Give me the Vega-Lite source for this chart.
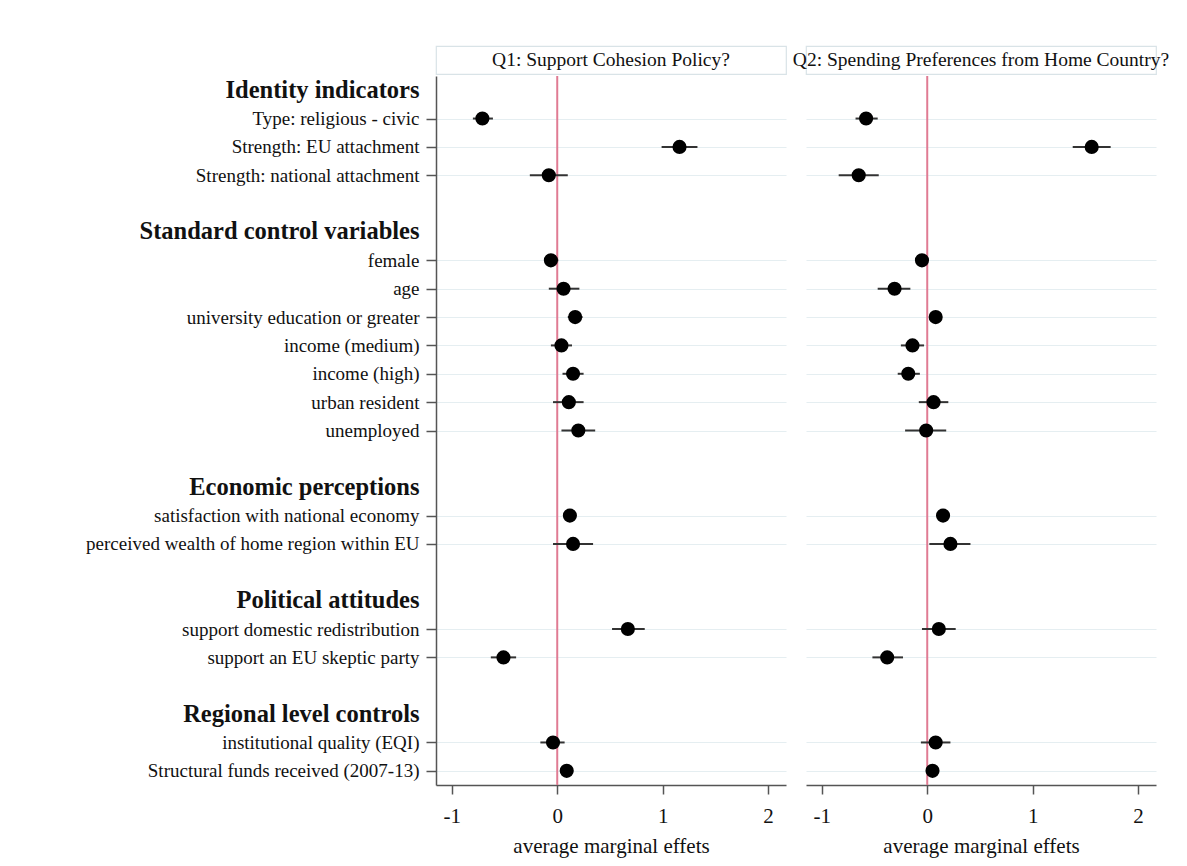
{
  "$schema": "https://vega.github.io/schema/vega-lite/v6.json",
  "padding": {"left": 85, "top": 45, "right": 5, "bottom": 5},
  "background": "white",
  "config": {"view": {"stroke": null}, "font": "Liberation Serif"},
  "datasets": {
    "coef": [
      {"panel": "Q1", "var": "Type: religious - civic", "est": -0.71, "lo": -0.80, "hi": -0.61},
      {"panel": "Q1", "var": "Strength: EU attachment", "est": 1.16, "lo": 0.99, "hi": 1.33},
      {"panel": "Q1", "var": "Strength: national attachment", "est": -0.08, "lo": -0.26, "hi": 0.10},
      {"panel": "Q1", "var": "female", "est": -0.06, "lo": -0.12, "hi": 0.01},
      {"panel": "Q1", "var": "age", "est": 0.06, "lo": -0.08, "hi": 0.21},
      {"panel": "Q1", "var": "university education or greater", "est": 0.17, "lo": 0.10, "hi": 0.24},
      {"panel": "Q1", "var": "income (medium)", "est": 0.04, "lo": -0.06, "hi": 0.14},
      {"panel": "Q1", "var": "income (high)", "est": 0.15, "lo": 0.05, "hi": 0.25},
      {"panel": "Q1", "var": "urban resident", "est": 0.11, "lo": -0.04, "hi": 0.25},
      {"panel": "Q1", "var": "unemployed", "est": 0.20, "lo": 0.04, "hi": 0.36},
      {"panel": "Q1", "var": "satisfaction with national economy", "est": 0.12, "lo": 0.06, "hi": 0.18},
      {"panel": "Q1", "var": "perceived wealth of home region within EU", "est": 0.15, "lo": -0.04, "hi": 0.34},
      {"panel": "Q1", "var": "support domestic redistribution", "est": 0.67, "lo": 0.52, "hi": 0.83},
      {"panel": "Q1", "var": "support an EU skeptic party", "est": -0.51, "lo": -0.63, "hi": -0.39},
      {"panel": "Q1", "var": "institutional quality (EQI)", "est": -0.04, "lo": -0.16, "hi": 0.07},
      {"panel": "Q1", "var": "Structural funds received (2007-13)", "est": 0.09, "lo": 0.03, "hi": 0.15},
      {"panel": "Q2", "var": "Type: religious - civic", "est": -0.58, "lo": -0.68, "hi": -0.47},
      {"panel": "Q2", "var": "Strength: EU attachment", "est": 1.56, "lo": 1.38, "hi": 1.74},
      {"panel": "Q2", "var": "Strength: national attachment", "est": -0.65, "lo": -0.84, "hi": -0.46},
      {"panel": "Q2", "var": "female", "est": -0.05, "lo": -0.11, "hi": 0.01},
      {"panel": "Q2", "var": "age", "est": -0.31, "lo": -0.47, "hi": -0.16},
      {"panel": "Q2", "var": "university education or greater", "est": 0.08, "lo": 0.03, "hi": 0.14},
      {"panel": "Q2", "var": "income (medium)", "est": -0.14, "lo": -0.25, "hi": -0.03},
      {"panel": "Q2", "var": "income (high)", "est": -0.18, "lo": -0.28, "hi": -0.07},
      {"panel": "Q2", "var": "urban resident", "est": 0.06, "lo": -0.08, "hi": 0.20},
      {"panel": "Q2", "var": "unemployed", "est": -0.01, "lo": -0.21, "hi": 0.18},
      {"panel": "Q2", "var": "satisfaction with national economy", "est": 0.15, "lo": 0.09, "hi": 0.20},
      {"panel": "Q2", "var": "perceived wealth of home region within EU", "est": 0.22, "lo": 0.02, "hi": 0.41},
      {"panel": "Q2", "var": "support domestic redistribution", "est": 0.11, "lo": -0.05, "hi": 0.27},
      {"panel": "Q2", "var": "support an EU skeptic party", "est": -0.38, "lo": -0.52, "hi": -0.23},
      {"panel": "Q2", "var": "institutional quality (EQI)", "est": 0.08, "lo": -0.06, "hi": 0.22},
      {"panel": "Q2", "var": "Structural funds received (2007-13)", "est": 0.05, "lo": -0.01, "hi": 0.10}
    ],
    "heads": [
      {"panel": "Q1", "t": "Q1: Support Cohesion Policy?"},
      {"panel": "Q2", "t": "Q2: Spending Preferences from Home Country?"}
    ],
    "zero": [{"z": 0}]
  },
  "columns": 2,
  "spacing": {"row": 2, "column": 20},
  "bounds": "flush",
  "concat": [
    {
      "data": {"name": "heads"},
      "transform": [{"filter": "datum.panel == 'Q1'"}],
      "width": 350,
      "height": 28,
      "view": {"stroke": "#d9e3e7", "strokeWidth": 1.2},
      "mark": {"type": "text", "fontSize": 19.5, "font": "Liberation Serif", "color": "#111", "baseline": "middle", "align": "center"},
      "encoding": {"text": {"field": "t", "type": "nominal"}}
    },
    {
      "data": {"name": "heads"},
      "transform": [{"filter": "datum.panel == 'Q2'"}],
      "width": 350,
      "height": 28,
      "view": {"stroke": "#d9e3e7", "strokeWidth": 1.2},
      "mark": {"type": "text", "fontSize": 19.5, "font": "Liberation Serif", "color": "#111", "baseline": "middle", "align": "center"},
      "encoding": {"text": {"field": "t", "type": "nominal"}}
    },
    {
      "data": {"name": "coef"},
      "transform": [{"filter": "datum.panel == 'Q1'"}],
      "width": 350,
      "height": 709,
      "layer": [
        {
          "data": {"name": "zero"},
          "mark": {"type": "rule", "color": "#e07b93", "strokeWidth": 2},
          "encoding": {"x": {"field": "z", "type": "quantitative", "scale": {"domain": [-1.15, 2.17], "nice": false, "zero": false}}}
        },
        {
          "mark": {"type": "rule", "color": "#333", "strokeWidth": 2},
          "encoding": {
            "x": {"field": "lo", "type": "quantitative"},
            "x2": {"field": "hi"},
            "y": {"field": "var", "type": "nominal"}
          }
        },
        {
          "mark": {"type": "circle", "color": "#000", "opacity": 1, "size": 200},
          "encoding": {
            "x": {
              "field": "est", "type": "quantitative",
              "scale": {"domain": [-1.15, 2.17], "nice": false, "zero": false},
              "axis": {"values": [-1, 0, 1, 2], "format": "d", "labelExpr": "replace(datum.label, '\u2212', '-')", "title": "average marginal effets", "titleFontSize": 21, "titleFontWeight": "normal", "titleFont": "Liberation Serif", "titleColor": "#111", "labelFont": "Liberation Serif", "labelFontSize": 21, "labelColor": "#111", "tickSize": 9, "tickColor": "#555", "tickWidth": 1.5, "domainColor": "#555", "domainWidth": 1.5, "grid": false, "labelPadding": 11, "titlePadding": 9, "labelFlush": false}
            },
            "y": {
              "field": "var", "type": "nominal",
              "scale": {"type": "point", "padding": 0.5, "domain": ["Identity indicators", "Type: religious - civic", "Strength: EU attachment", "Strength: national attachment", "_b1", "Standard control variables", "female", "age", "university education or greater", "income (medium)", "income (high)", "urban resident", "unemployed", "_b2", "Economic perceptions", "satisfaction with national economy", "perceived wealth of home region within EU", "_b3", "Political attitudes", "support domestic redistribution", "support an EU skeptic party", "_b4", "Regional level controls", "institutional quality (EQI)", "Structural funds received (2007-13)"]},
              "axis": {
                "title": null,
                "labelFont": "Liberation Serif",
                "labelFontSize": {"condition": {"test": "indexof(['Identity indicators','Standard control variables','Economic perceptions','Political attitudes','Regional level controls'], datum.value) >= 0", "value": 24.5}, "value": 19},
                "labelFontWeight": {"condition": {"test": "indexof(['Identity indicators','Standard control variables','Economic perceptions','Political attitudes','Regional level controls'], datum.value) >= 0", "value": "bold"}, "value": "normal"},
                "labelColor": "#111",
                "labelExpr": "indexof(datum.value, '_b') == 0 ? '' : datum.value",
                "labelLimit": 0,
                "labelPadding": 7,
                "tickSize": 10,
                "tickColor": "#555",
                "tickWidth": 1.5,
                "tickOpacity": {"condition": {"test": "indexof(['Identity indicators','Standard control variables','Economic perceptions','Political attitudes','Regional level controls'], datum.value) >= 0 || indexof(datum.value, '_b') == 0", "value": 0}, "value": 1},
                "grid": true,
                "gridColor": "#e5eef1",
                "gridWidth": 1.2,
                "gridOpacity": {"condition": {"test": "indexof(['Identity indicators','Standard control variables','Economic perceptions','Political attitudes','Regional level controls'], datum.value) >= 0 || indexof(datum.value, '_b') == 0", "value": 0}, "value": 1},
                "domainColor": "#555",
                "domainWidth": 1.5
              }
            }
          }
        }
      ]
    },
    {
      "data": {"name": "coef"},
      "transform": [{"filter": "datum.panel == 'Q2'"}],
      "width": 350,
      "height": 709,
      "layer": [
        {
          "data": {"name": "zero"},
          "mark": {"type": "rule", "color": "#e07b93", "strokeWidth": 2},
          "encoding": {"x": {"field": "z", "type": "quantitative", "scale": {"domain": [-1.15, 2.17], "nice": false, "zero": false}}}
        },
        {
          "mark": {"type": "rule", "color": "#333", "strokeWidth": 2},
          "encoding": {
            "x": {"field": "lo", "type": "quantitative"},
            "x2": {"field": "hi"},
            "y": {"field": "var", "type": "nominal"}
          }
        },
        {
          "mark": {"type": "circle", "color": "#000", "opacity": 1, "size": 200},
          "encoding": {
            "x": {
              "field": "est", "type": "quantitative",
              "scale": {"domain": [-1.15, 2.17], "nice": false, "zero": false},
              "axis": {"values": [-1, 0, 1, 2], "format": "d", "labelExpr": "replace(datum.label, '\u2212', '-')", "title": "average marginal effets", "titleFontSize": 21, "titleFontWeight": "normal", "titleFont": "Liberation Serif", "titleColor": "#111", "labelFont": "Liberation Serif", "labelFontSize": 21, "labelColor": "#111", "tickSize": 9, "tickColor": "#555", "tickWidth": 1.5, "domainColor": "#555", "domainWidth": 1.5, "grid": false, "labelPadding": 11, "titlePadding": 9, "labelFlush": false}
            },
            "y": {
              "field": "var", "type": "nominal",
              "scale": {"type": "point", "padding": 0.5, "domain": ["Identity indicators", "Type: religious - civic", "Strength: EU attachment", "Strength: national attachment", "_b1", "Standard control variables", "female", "age", "university education or greater", "income (medium)", "income (high)", "urban resident", "unemployed", "_b2", "Economic perceptions", "satisfaction with national economy", "perceived wealth of home region within EU", "_b3", "Political attitudes", "support domestic redistribution", "support an EU skeptic party", "_b4", "Regional level controls", "institutional quality (EQI)", "Structural funds received (2007-13)"]},
              "axis": {
                "title": null,
                "labels": false,
                "ticks": false,
                "domain": false,
                "grid": true,
                "gridColor": "#e5eef1",
                "gridWidth": 1.2,
                "gridOpacity": {"condition": {"test": "indexof(['Identity indicators','Standard control variables','Economic perceptions','Political attitudes','Regional level controls'], datum.value) >= 0 || indexof(datum.value, '_b') == 0", "value": 0}, "value": 1}
              }
            }
          }
        }
      ]
    }
  ]
}
